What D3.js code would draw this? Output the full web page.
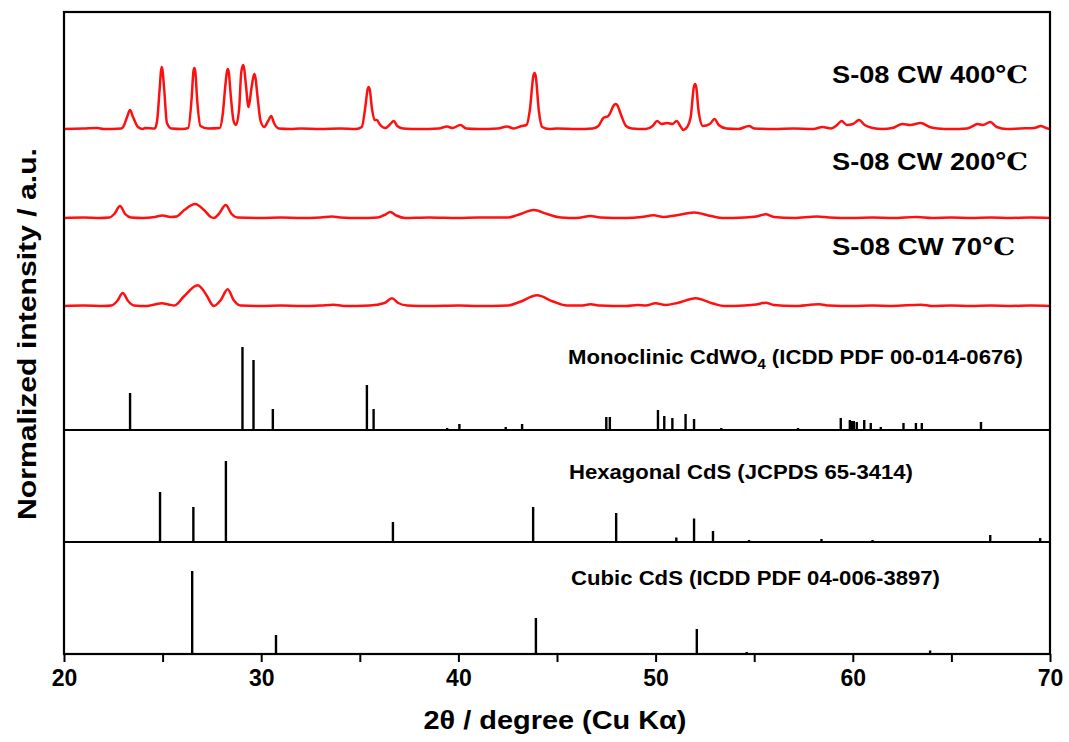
<!DOCTYPE html>
<html><head><meta charset="utf-8">
<script src="https://cdn.jsdelivr.net/npm/d3@7"></script>
<style>
html,body{margin:0;padding:0;background:#fff;}
text{font-family:"Liberation Sans",Arial,sans-serif;font-weight:bold;fill:#000;}
</style></head>
<body><svg id="chart" width="1069" height="742"></svg>
<script>
// ---- data (2θ in degrees, intensity in arbitrary units) ----
const xTicks = [20, 30, 40, 50, 60, 70];
const xMinorTicks = [25, 35, 45, 55, 65];

const sampleNames = ["S-08 CW 400", "S-08 CW 200", "S-08 CW 70"];
const sampleOffsets = [301, 212, 124];

const pattern400 = [[20,0],[21,0.5],[21.7,1],[22,0],[22.9,0.5],[23.0,2],[23.2,12],[23.35,19],[23.5,12],[23.75,2],[24.0,0],[24.1,1],[24.6,0.5],[24.72,8],[24.85,40],[24.92,58],[24.96,62],[25.0,58],[25.08,40],[25.22,6],[25.45,0.5],[26.0,0],[26.3,1],[26.47,30],[26.56,57],[26.61,61],[26.66,57],[26.75,30],[26.92,3],[27.3,0.5],[27.9,1],[28.05,15],[28.19,45],[28.26,57],[28.31,60],[28.36,56],[28.45,35],[28.6,8],[28.72,4],[28.88,20],[28.98,55],[29.04,62],[29.09,64],[29.14,60],[29.22,45],[29.36,22],[29.5,40],[29.6,52],[29.66,55],[29.72,50],[29.8,35],[29.97,8],[30.15,2],[30.35,8],[30.51,13],[30.65,6],[30.9,0.5],[31.5,0],[32,0.5],[33,0],[34,0.5],[34.8,0],[35.1,2],[35.28,22],[35.4,40],[35.45,42],[35.5,40],[35.62,20],[35.75,9],[35.87,9],[36.0,5],[36.3,1],[36.55,5],[36.72,8],[36.9,3],[37.2,0.5],[38,0],[39,0.5],[39.43,2.5],[39.7,1],[40.1,4],[40.4,0.5],[41,0],[42,0.5],[42.47,2.5],[42.8,0.5],[43.2,3],[43.45,4],[43.63,20],[43.8,53],[43.86,56],[43.92,53],[44.08,18],[44.25,2],[44.6,0],[45,0.5],[46,0],[46.8,0.5],[47.1,3],[47.35,11],[47.6,13],[47.9,24],[47.97,25],[48.05,24],[48.25,14],[48.5,3],[48.8,0.5],[49.5,0],[49.85,3],[50.08,8],[50.3,5],[50.59,6],[50.85,5],[51.07,8],[51.25,3],[51.41,-1],[51.6,2],[51.78,12],[51.94,42],[52.0,45],[52.06,42],[52.18,18],[52.4,3],[52.75,5],[52.99,10],[53.2,4],[53.6,0.5],[54.2,0],[54.74,3],[55.0,0.5],[56,0],[57,0.5],[58,0],[58.46,2],[58.9,0.5],[59.2,4],[59.43,8],[59.7,4],[60.0,5],[60.32,9],[60.6,4],[61.0,1],[61.5,0],[62.0,1],[62.52,5],[62.9,4],[63.45,6],[63.9,2],[64.3,0.5],[65,0],[65.8,0.5],[66.1,3],[66.33,5],[66.6,4],[66.97,7],[67.3,2],[67.8,0],[68.5,0.5],[69.2,1],[69.54,3],[69.8,1],[70,0]];

const pattern200 = [[20,0],[21,0.5],[21.8,0],[22.3,0.5],[22.55,4],[22.84,12],[23.1,4],[23.4,0.5],[24,0],[24.6,1],[25.0,2.5],[25.4,1],[25.7,1.5],[26.1,8],[26.65,14],[27.1,8],[27.45,1],[27.6,0],[27.85,4],[28.2,13],[28.5,4],[28.8,0.5],[30,0],[31,0.5],[32,0],[33,0.5],[33.59,1.5],[34,0.5],[35,0],[35.9,0.5],[36.25,3],[36.55,6],[36.85,2.5],[37.3,0],[38.5,0.5],[40,0],[41,0.5],[42.5,0.5],[43.0,3],[43.82,8],[44.5,4],[45.2,0.5],[46,0],[46.7,2],[47.2,0.5],[48.5,0],[49.3,1],[49.9,2.7],[50.4,1],[51.0,2.5],[51.95,5.5],[52.8,2],[53.4,0],[54.5,0.5],[55.1,1.5],[55.58,3.7],[56.0,1],[57,0],[58.2,1.5],[58.8,0.5],[60,0],[61,0.5],[62,0],[63.27,1],[64,0],[65,0.5],[66,0],[67,0.5],[68,0],[69,0.5],[70,0]];

const pattern70 = [[20,0],[21,0.5],[22,0],[22.4,0.5],[22.7,5],[22.98,13],[23.25,5],[23.55,0.5],[24.2,0],[24.6,1.5],[24.96,2.7],[25.3,1.5],[25.6,0.5],[26.1,10],[26.78,20.7],[27.25,10],[27.5,1.5],[27.6,0],[27.95,6],[28.3,16.7],[28.6,6],[28.95,0.5],[30,0],[31,0.5],[32,0],[33,0.5],[33.67,1.3],[34.2,0],[35.5,0.5],[36.25,3],[36.63,7.7],[36.95,3],[37.4,0.5],[38.5,0],[40,0.5],[41,0],[42.5,0.5],[43.1,4],[43.99,10.7],[44.8,4.5],[45.5,0.5],[46.2,0.5],[46.7,1.7],[47.2,0.5],[48.5,0],[49.1,1],[49.5,0.5],[50.0,2.7],[50.5,1],[51.1,3],[52.03,7.7],[52.9,2.5],[53.5,0],[54.5,0.5],[55.1,1.5],[55.58,3.3],[56.0,1],[57,0],[58.29,1.7],[58.8,0.5],[60,0],[61,0.5],[62,0],[63.45,1.3],[64,0],[65,0.5],[66,0],[67,0.5],[68,0],[69,0.5],[70,0]];

// reference stick patterns [2θ, relative intensity]
const monoclinicSticks = [[23.35,37],[29.05,83],[29.61,70],[30.59,21],[35.36,45],[35.70,21],[39.43,2],[40.05,6],[42.40,3],[43.23,6],[47.50,13],[47.68,13],[50.12,20],[50.44,14],[50.85,12],[51.52,16],[51.95,11],[53.33,2],[57.22,2],[59.39,12],[59.85,10],[59.95,9],[60.05,9],[60.2,8],[60.58,10],[60.91,7],[61.42,3],[62.57,7],[63.2,7],[63.5,7],[66.5,8]];
const hexagonalSticks = [[24.87,50],[26.56,35],[28.21,81],[36.68,20],[43.79,35],[48.0,29],[51.05,4.5],[51.95,23.5],[52.91,11],[54.74,2],[58.41,3],[61.0,2],[66.97,7],[69.5,4]];
const cubicSticks = [[26.5,83],[30.75,19],[43.93,36],[52.09,25],[54.62,2],[63.92,3.5]];

const refLabels = ["Monoclinic CdWO", "Hexagonal CdS (JCPDS 65-3414)", "Cubic CdS (ICDD PDF 04-006-3897)"];

// ---- layout ----
const svg = d3.select("#chart");
const L = 64, R = 1050, T = 12, B = 654;
const div1 = 430, div2 = 542;

const x = d3.scaleLinear().domain([20, 70]).range([L, R]);
const yTop = d3.scaleLinear().domain([0, div1 - T]).range([div1, T]);
const yHex = d3.scaleLinear().domain([0, div2 - div1]).range([div2, div1]);
const yCub = d3.scaleLinear().domain([0, B - div2]).range([B, div2]);

svg.append("defs").append("clipPath").attr("id", "clip")
  .append("rect").attr("x", L).attr("y", T).attr("width", R - L).attr("height", B - T);

const g = svg.append("g").attr("clip-path", "url(#clip)");

// red XRD curves
const patterns = [pattern400, pattern200, pattern70];
patterns.forEach((p, i) => {
  const line = d3.line()
    .x(d => x(d[0]))
    .y(d => yTop(d[1] + sampleOffsets[i]))
    .curve(d3.curveMonotoneX);
  g.append("path").datum(p).attr("d", line)
    .attr("fill", "none").attr("stroke", "#ff1010").attr("stroke-width", 2.5)
    .attr("stroke-linejoin", "round");
});

// sticks
function drawSticks(data, y) {
  g.append("g").selectAll("line").data(data).join("line")
    .attr("x1", d => x(d[0])).attr("x2", d => x(d[0]))
    .attr("y1", y(0)).attr("y2", d => y(d[1]))
    .attr("stroke", "#000").attr("stroke-width", 2.4);
}
drawSticks(monoclinicSticks, yTop);
drawSticks(hexagonalSticks, yHex);
drawSticks(cubicSticks, yCub);

// panel dividers
[div1, div2].forEach(yy => {
  svg.append("line").attr("x1", L).attr("x2", R).attr("y1", yy).attr("y2", yy)
    .attr("stroke", "#000").attr("stroke-width", 2.2);
});

// frame
svg.append("rect").attr("x", L).attr("y", T).attr("width", R - L).attr("height", B - T)
  .attr("fill", "none").attr("stroke", "#000").attr("stroke-width", 2.2);

// x axis
const xAxis = d3.axisBottom(x).tickValues(xTicks).tickSize(8).tickPadding(8).tickFormat(d3.format("d"));
const ax = svg.append("g").attr("transform", `translate(0,${B})`).call(xAxis);
ax.select(".domain").remove();
ax.selectAll(".tick line").attr("stroke", "#000").attr("stroke-width", 2);
ax.selectAll(".tick text").style("font-size", "23px").style("font-weight", "bold")
  .style("font-family", "'Liberation Sans', Arial, sans-serif").attr("fill", "#000");
const axm = svg.append("g").attr("transform", `translate(0,${B})`)
  .call(d3.axisBottom(x).tickValues(xMinorTicks).tickSize(8).tickFormat(""));
axm.select(".domain").remove();
axm.selectAll(".tick line").attr("stroke", "#000").attr("stroke-width", 2);

// axis titles
svg.append("text").attr("x", 555).attr("y", 729).attr("text-anchor", "middle")
  .style("font-size", "26px").attr("textLength", 263).attr("lengthAdjust", "spacingAndGlyphs")
  .text("2θ / degree (Cu Kα)");
svg.append("text").attr("transform", "translate(36,334) rotate(-90)").attr("text-anchor", "middle")
  .style("font-size", "26px").attr("textLength", 372).attr("lengthAdjust", "spacingAndGlyphs")
  .text("Normalized intensity / a.u.");

// sample labels
const sampleLabelY = [83, 170, 255];
const sampleLabelW = [196, 196, 183];
sampleNames.forEach((n, i) => {
  const t = svg.append("text").attr("x", 832).attr("y", sampleLabelY[i])
    .style("font-size", "24px").attr("textLength", sampleLabelW[i]).attr("lengthAdjust", "spacingAndGlyphs");
  t.append("tspan").text(n);
  t.append("tspan").style("font-family", "'DejaVu Serif','Liberation Serif',serif").text("℃");
});

// reference labels
const m = svg.append("text").attr("x", 568).attr("y", 364).style("font-size", "21px")
  .attr("textLength", 455).attr("lengthAdjust", "spacingAndGlyphs");
m.append("tspan").text(refLabels[0]);
m.append("tspan").attr("dy", 5).style("font-size", "14px").text("4");
m.append("tspan").attr("dy", -5).text(" (ICDD PDF 00-014-0676)");
svg.append("text").attr("x", 569).attr("y", 479).style("font-size", "21px")
  .attr("textLength", 344).attr("lengthAdjust", "spacingAndGlyphs").text(refLabels[1]);
svg.append("text").attr("x", 571).attr("y", 585).style("font-size", "21px")
  .attr("textLength", 369).attr("lengthAdjust", "spacingAndGlyphs").text(refLabels[2]);
</script></body></html>
